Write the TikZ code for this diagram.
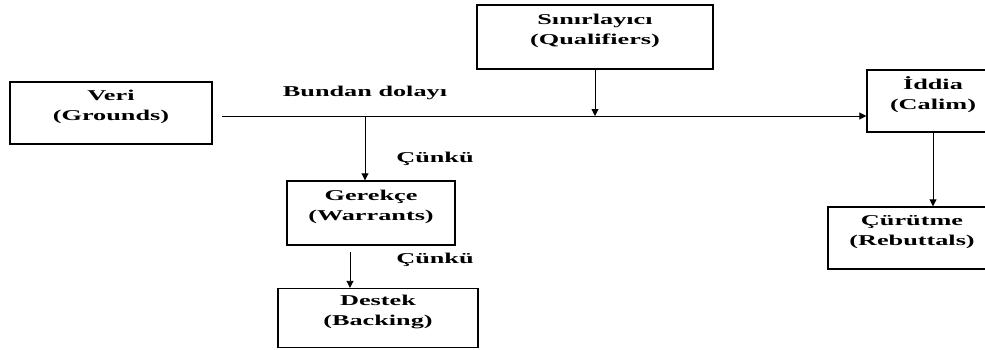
\documentclass[tikz,border=0pt]{standalone}
\usepackage{fontspec}
\setmainfont{Liberation Serif}[FakeStretch=1.75]
\usetikzlibrary{arrows.meta}

\begin{document}
\begin{tikzpicture}[x=1pt,y=-1pt,
	font=\fontsize{15}{20}\selectfont\bfseries,
	box/.style={rectangle,draw,line width=1.4pt,inner sep=0pt},
	txt/.style={align=center,yshift=6pt},
	arr/.style={-{Triangle[width=7pt,length=7pt]},line width=0.9pt},
	]
	\useasboundingbox (0,0) rectangle (985,349);
	\clip (0,0) rectangle (985,349);
	\node[box,minimum width=150,minimum height=62] (iddia) at (942,101) {};
	\node[box,minimum width=190,minimum height=62] (curutme) at (923,238) {};
	\node[box,minimum width=202,minimum height=62] (veri) at (111,113) {};
	\node[box,minimum width=236,minimum height=64] (sinir) at (595,37) {};
	\node[box,minimum width=168,minimum height=64] (gerekce) at (371,213) {};
	\node[box,minimum width=200,minimum height=59] (destek) at (378,318) {};
	\node[txt] (veritxt) at (veri) {Veri\\(Grounds)};
	\node[txt] (sinirtxt) at (sinir) {Sınırlayıcı\\(Qualifiers)};
	\node[txt,xshift=-9pt] (iddiatxt) at (iddia) {İddia\\(Calim)};
	\node[txt,xshift=-11pt] (curutmetxt) at (curutme) {Çürütme\\(Rebuttals)};
	\node[txt] (gerekcetxt) at (gerekce) {Gerekçe\\(Warrants)};
	\node[txt] (destektxt) at (destek) {Destek\\(Backing)};
	\node (bundan) at (365,93) {Bundan dolayı};
	\node (cunkua) at (435,159) {Çünkü};
	\node (cunkub) at (435,260) {Çünkü};
	\coordinate (vstart) at (222,116);
	\coordinate (gtop) at (365,116);
	\coordinate (dtop) at (350,252);
	\coordinate (ctop) at (933,132);
	\draw[arr] (vstart) -- (iddia.west |- vstart);
	\draw[arr] (sinir.south) -- (sinir.south |- vstart);
	\draw[arr] (gtop) -- (gtop |- gerekce.north);
	\draw[arr] (dtop) -- (dtop |- destek.north);
	\draw[arr] (ctop) -- (ctop |- curutme.north);
\end{tikzpicture}
\end{document}
